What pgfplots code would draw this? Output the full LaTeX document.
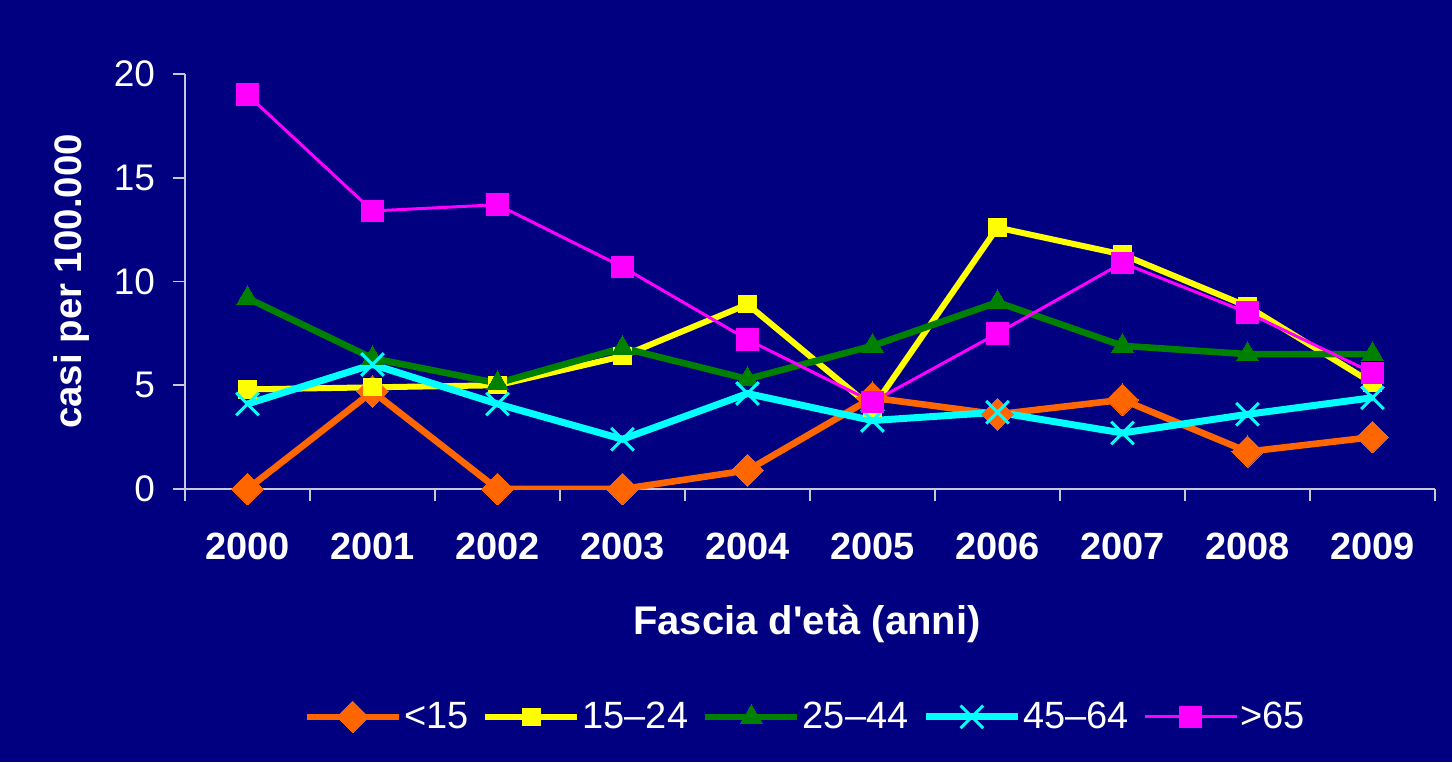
\documentclass[border=0pt]{standalone}
\usepackage{fontspec}
\setmainfont{Liberation Sans}
\usepackage{pgfplots}
\pgfplotsset{compat=1.18}

\definecolor{bgnavy}{HTML}{000080}
\definecolor{axgray}{HTML}{C8C8D8}
\definecolor{cOrange}{HTML}{FF6600}
\definecolor{cYellow}{HTML}{FFFF00}
\definecolor{cGreen}{HTML}{008000}
\definecolor{cCyan}{HTML}{00FFFF}
\definecolor{cMagenta}{HTML}{FF00FF}

\begin{document}
\begin{tikzpicture}
\fill[bgnavy] (0,0) rectangle (726pt,381pt);
\begin{axis}[
  at={(92.5pt,136.5pt)}, anchor=south west,
  scale only axis,
  width=625pt, height=207.5pt,
  xmin=-0.5, xmax=9.5,
  ymin=0, ymax=20,
  axis x line=bottom, axis y line=left,
  axis line style={draw=axgray, line width=0.8pt, -},
  tick align=outside,
  major tick length=6pt,
  every tick/.style={draw=axgray, line width=0.8pt},
  ytick={0,5,10,15,20},
  yticklabel style={font=\fontsize{18.5}{21}\selectfont, text=white, xshift=-5.5pt},
  /pgf/number format/assume math mode=true,
  xtick={-0.5,0.5,...,9.5},
  xticklabels={},
  extra x ticks={0,1,2,3,4,5,6,7,8,9},
  extra x tick labels={2000,2001,2002,2003,2004,2005,2006,2007,2008,2009},
  extra x tick style={major tick length=0pt,
    xticklabel style={font=\bfseries\fontsize{19}{22}\selectfont, text=white, anchor=center, yshift=-28.5pt}},
  xlabel={Fascia d\textquotesingle età (anni)},
  xlabel style={at={(axis description cs:0.4976,-0.325)}, anchor=center,
    font=\bfseries\fontsize{20}{23}\selectfont, text=white},
  ylabel={casi per 100.000},
  ylabel style={at={(axis description cs:-0.091,0.5)}, anchor=center,
    font=\bfseries\fontsize{19.2}{22}\selectfont, text=white},
  legend columns=5,
  legend style={at={(axis description cs:0.4968,-0.549)}, anchor=center,
    draw=none, fill=none, text=white, font=\fontsize{19}{22}\selectfont,
    /tikz/every odd column/.append style={column sep=-1pt},
    /tikz/every even column/.append style={column sep=5pt}},
  legend image code/.code={\draw[mark repeat=2,mark phase=2,#1]
    plot coordinates {(0pt,0pt) (23pt,0pt) (46pt,0pt)};},
]
\addplot[cOrange, line width=3.3pt, mark=square*, mark size=5.6pt,
  mark options={rotate=45, line width=0pt}] coordinates {
  (0,0) (1,4.7) (2,0) (3,0) (4,0.9) (5,4.4) (6,3.6) (7,4.3) (8,1.8) (9,2.5)
};
\addlegendentry{<15}
\addplot[cYellow, line width=3pt, mark=square*, mark size=4.3pt,
  mark options={line width=0pt}] coordinates {
  (0,4.8) (1,4.9) (2,5.0) (3,6.4) (4,8.9) (5,3.9) (6,12.6) (7,11.3) (8,8.8) (9,5.1)
};
\addlegendentry{15–24}
\addplot[cGreen, line width=3.3pt, mark=triangle*, mark size=6.2pt,
  mark options={line width=0pt}] coordinates {
  (0,9.2) (1,6.3) (2,5.1) (3,6.8) (4,5.3) (5,6.9) (6,9.0) (7,6.9) (8,6.5) (9,6.5)
};
\addlegendentry{25–44}
\addplot[cCyan, line width=3.5pt, mark=x, mark size=8pt,
  mark options={line width=1.5pt}] coordinates {
  (0,4.1) (1,6.0) (2,4.1) (3,2.4) (4,4.6) (5,3.3) (6,3.7) (7,2.7) (8,3.6) (9,4.4)
};
\addlegendentry{45–64}
\addplot[cMagenta, line width=1.5pt, mark=square*, mark size=5.4pt,
  mark options={line width=0pt}] coordinates {
  (0,19.0) (1,13.4) (2,13.7) (3,10.7) (4,7.2) (5,4.2) (6,7.5) (7,10.9) (8,8.5) (9,5.6)
};
\addlegendentry{>65}
\end{axis}
\pgfresetboundingbox
\useasboundingbox (0,0) rectangle (726pt,381pt);
\end{tikzpicture}
\end{document}
